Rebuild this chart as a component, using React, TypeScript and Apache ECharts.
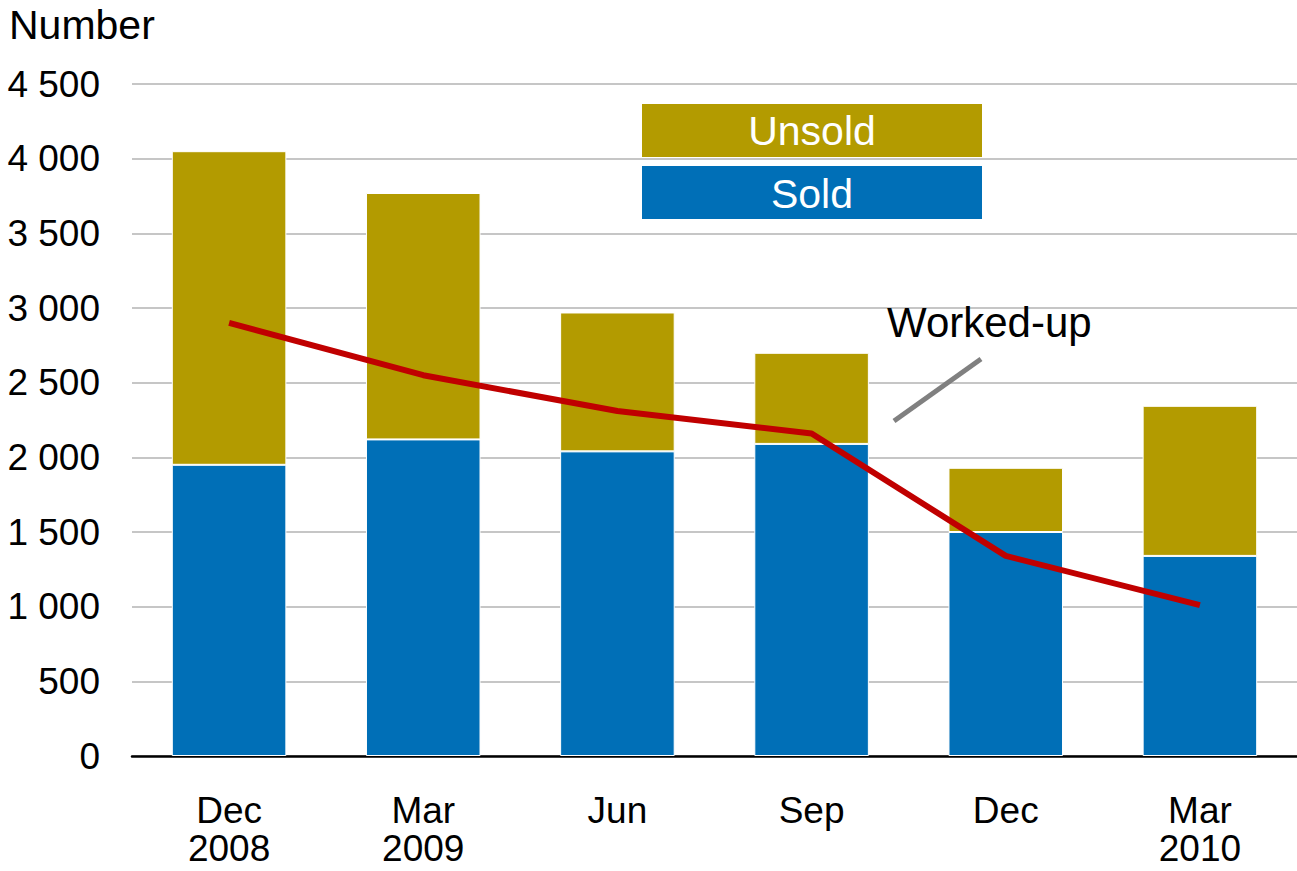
import React, { useEffect, useRef } from "react";
import * as echarts from "echarts";

const categories = ["Dec\n2008", "Mar\n2009", "Jun", "Sep", "Dec", "Mar\n2010"];
const sold = [1950, 2120, 2040, 2090, 1500, 1340];
const unsold = [2100, 1650, 930, 610, 430, 1005];
const workedUp = [2900, 2550, 2310, 2160, 1340, 1010];
const yTicks = [0, 500, 1000, 1500, 2000, 2500, 3000, 3500, 4000, 4500];

const FONT = "'Liberation Sans', Arial, sans-serif";
const SOLD_COLOR = "#006fb7";
const UNSOLD_COLOR = "#b39b00";

function fmt(v: number): string {
  const s = String(Math.round(v));
  return s.replace(/\B(?=(\d{3})+(?!\d))/g, " ");
}

export default function App() {
  const ref = useRef<HTMLDivElement>(null);
  useEffect(() => {
    if (!ref.current) return;
    const chart = echarts.init(ref.current, null, { renderer: "svg" });
    chart.setOption({
      animation: false,
      textStyle: { fontFamily: FONT },
      grid: { left: 132, right: 0, top: 84, bottom: 115, containLabel: false },
      xAxis: {
        type: "category",
        data: categories,
        axisLine: { show: true, lineStyle: { color: "#000", width: 2.5 } },
        axisTick: { show: false },
        axisLabel: {
          color: "#000",
          fontSize: 37,
          fontFamily: FONT,
          lineHeight: 38,
          margin: 35,
          interval: 0,
        },
      },
      yAxis: {
        type: "value",
        min: yTicks[0],
        max: yTicks[yTicks.length - 1],
        interval: 500,
        axisLine: { show: false },
        axisTick: { show: false },
        splitLine: { lineStyle: { color: "#c6c6c6", width: 2 } },
        axisLabel: {
          color: "#000",
          fontSize: 37,
          fontFamily: FONT,
          margin: 32,
          formatter: (v: number) => fmt(v),
        },
      },
      series: [
        {
          name: "Sold",
          type: "bar",
          stack: "total",
          data: sold,
          barWidth: "59%",
          itemStyle: { color: SOLD_COLOR, borderColor: "#fff", borderWidth: 1 },
        },
        {
          name: "Unsold",
          type: "bar",
          stack: "total",
          data: unsold,
          barWidth: "59%",
          itemStyle: { color: UNSOLD_COLOR, borderColor: "#fff", borderWidth: 1 },
        },
        {
          name: "Worked-up",
          type: "line",
          data: workedUp,
          symbol: "none",
          lineStyle: { color: "#c00000", width: 6 },
          z: 5,
        },
      ],
      graphic: [
        {
          type: "text",
          left: 9,
          top: 4,
          style: { text: "Number", fontSize: 41, fontFamily: FONT, fill: "#000" },
        },
        {
          type: "rect",
          shape: { x: 642, y: 104, width: 340, height: 53 },
          style: { fill: UNSOLD_COLOR },
          z: 10,
        },
        {
          type: "text",
          x: 812,
          y: 131,
          style: {
            text: "Unsold",
            fontSize: 41,
            fontFamily: FONT,
            fill: "#fff",
            align: "center",
            verticalAlign: "middle",
          },
          z: 11,
        },
        {
          type: "rect",
          shape: { x: 642, y: 166, width: 340, height: 53 },
          style: { fill: SOLD_COLOR },
          z: 10,
        },
        {
          type: "text",
          x: 812,
          y: 194,
          style: {
            text: "Sold",
            fontSize: 41,
            fontFamily: FONT,
            fill: "#fff",
            align: "center",
            verticalAlign: "middle",
          },
          z: 11,
        },
        {
          type: "text",
          x: 887,
          y: 322,
          style: {
            text: "Worked-up",
            fontSize: 42,
            fontFamily: FONT,
            fill: "#000",
            align: "left",
            verticalAlign: "middle",
          },
          z: 11,
        },
        {
          type: "line",
          shape: { x1: 894, y1: 421, x2: 981, y2: 359 },
          style: { stroke: "#808080", lineWidth: 5 },
          z: 11,
        },
      ],
    });
    return () => chart.dispose();
  }, []);
  return <div ref={ref} style={{ width: 1297, height: 871, position: "absolute", left: 0, top: 0 }} />;
}
